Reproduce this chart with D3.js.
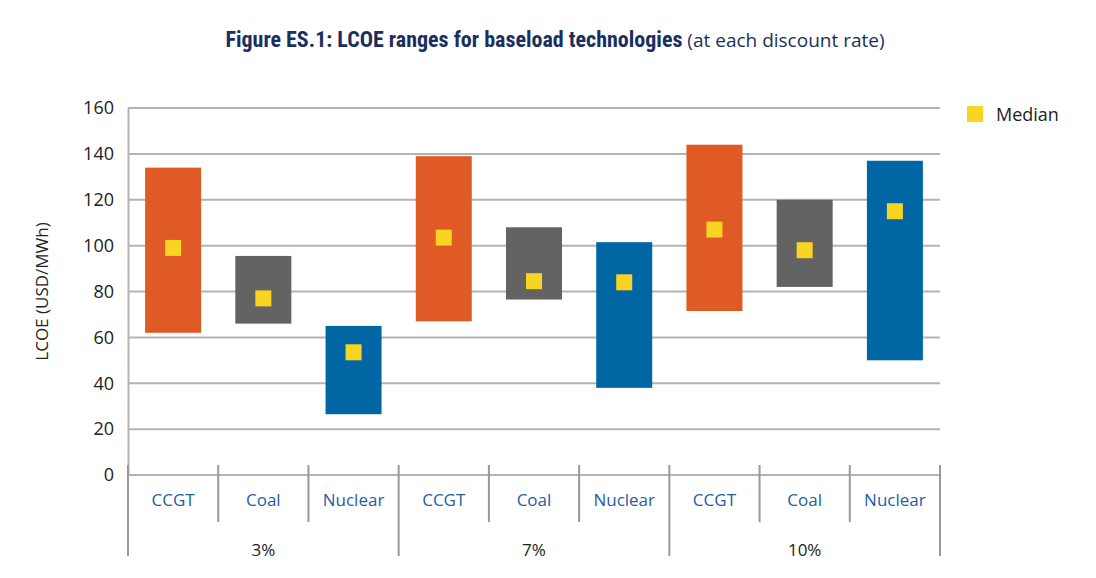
<!DOCTYPE html>
<html>
<head>
<meta charset="utf-8">
<script src="https://cdnjs.cloudflare.com/ajax/libs/d3/7.8.5/d3.min.js"></script>
<style>
  body { margin: 0; background: #fff; font-family: "Open Sans", "Noto Sans", sans-serif; }
</style>
</head>
<body>
<div id="chart"></div>
<script>
var rates = ["3%", "7%", "10%"];
var techs = ["CCGT", "Coal", "Nuclear"];
var lows = [[62, 66, 26.5], [67, 76.5, 38], [71.5, 82, 50]];
var highs = [[134, 95.5, 65], [139, 108, 101.5], [144, 120, 137]];
var medians = [[99, 77, 53.5], [103.5, 84.5, 84], [107, 98, 115]];
var yTicks = [0, 20, 40, 60, 80, 100, 120, 140, 160];
var colors = {"CCGT": "#E05A25", "Coal": "#636363", "Nuclear": "#0066A4"};

var svg = d3.select("#chart").append("svg").attr("width", 1096).attr("height", 578);

var plotLeft = 128, plotRight = 940, plotTop = 108, plotBottom = 475;

var cats = [];
rates.forEach(function(r, i) {
  techs.forEach(function(t, j) {
    cats.push({key: r + "|" + t, rate: r, tech: t, lo: lows[i][j], hi: highs[i][j], med: medians[i][j]});
  });
});

var x = d3.scaleBand().domain(cats.map(function(d){ return d.key; })).range([plotLeft, plotRight]);
var y = d3.scaleLinear().domain([0, 160]).range([plotBottom, plotTop]);

// title
var title = svg.append("text").attr("x", 555).attr("y", 47).attr("text-anchor", "middle");
title.append("tspan").text("Figure ES.1: LCOE ranges for baseload technologies")
  .attr("font-weight", "bold").attr("font-size", 22).attr("fill", "#1B2F5E")
  .attr("font-family", "Roboto, sans-serif").attr("font-stretch", "condensed");
title.append("tspan").text(" (at each discount rate)").attr("font-size", 19).attr("fill", "#1B2F5E");

// gridlines
svg.append("g").selectAll("line").data(yTicks).enter().append("line")
  .attr("x1", plotLeft).attr("x2", plotRight)
  .attr("y1", function(d){ return y(d); }).attr("y2", function(d){ return y(d); })
  .attr("stroke", "#b3b3b3").attr("stroke-width", 2);

// y axis
var yAxis = svg.append("g").attr("transform", "translate(" + plotLeft + ",0)")
  .call(d3.axisLeft(y).tickValues(yTicks).tickSize(0).tickPadding(14));
yAxis.select(".domain").attr("stroke", "#b3b3b3").attr("stroke-width", 2);
yAxis.selectAll("text").attr("font-size", 18).attr("fill", "#222").attr("font-family", "Open Sans, sans-serif");

svg.append("text").attr("transform", "translate(48," + ((plotTop + plotBottom) / 2) + ") rotate(-90)")
  .attr("text-anchor", "middle").attr("font-size", 17).attr("fill", "#222").text("LCOE (USD/MWh)");

// bars
var bw = 56;
svg.append("g").selectAll("rect").data(cats).enter().append("rect")
  .attr("x", function(d){ return x(d.key) + (x.bandwidth() - bw) / 2; })
  .attr("width", bw)
  .attr("y", function(d){ return y(d.hi); })
  .attr("height", function(d){ return y(d.lo) - y(d.hi); })
  .attr("fill", function(d){ return colors[d.tech]; });

// medians
var ms = 16;
svg.append("g").selectAll("rect").data(cats).enter().append("rect")
  .attr("x", function(d){ return x(d.key) + x.bandwidth() / 2 - ms / 2; })
  .attr("y", function(d){ return y(d.med) - ms / 2; })
  .attr("width", ms).attr("height", ms).attr("fill", "#F9D423");

// category axis
var bandEdges = cats.map(function(d){ return x(d.key); }).concat([plotRight]);
svg.append("g").selectAll("line").data(bandEdges).enter().append("line")
  .attr("x1", function(d){ return d; }).attr("x2", function(d){ return d; })
  .attr("y1", plotBottom - 10)
  .attr("y2", function(d, i){ return i % 3 === 0 ? 556 : 522; })
  .attr("stroke", "#999").attr("stroke-width", 2);

svg.append("g").selectAll("text").data(cats).enter().append("text")
  .attr("x", function(d){ return x(d.key) + x.bandwidth() / 2; })
  .attr("y", 506).attr("text-anchor", "middle").attr("font-size", 17).attr("fill", "#1F5FA0")
  .text(function(d){ return d.tech; });

svg.append("g").selectAll("text").data(rates).enter().append("text")
  .attr("x", function(r){ return x(r + "|Coal") + x.bandwidth() / 2; })
  .attr("y", 556).attr("text-anchor", "middle").attr("font-size", 17).attr("fill", "#222")
  .text(function(r){ return r; });

// legend
svg.append("rect").attr("x", 967).attr("y", 106).attr("width", ms).attr("height", ms).attr("fill", "#F9D423");
svg.append("text").attr("x", 996).attr("y", 121).attr("font-size", 18).attr("fill", "#222").text("Median");
</script>
</body>
</html>
